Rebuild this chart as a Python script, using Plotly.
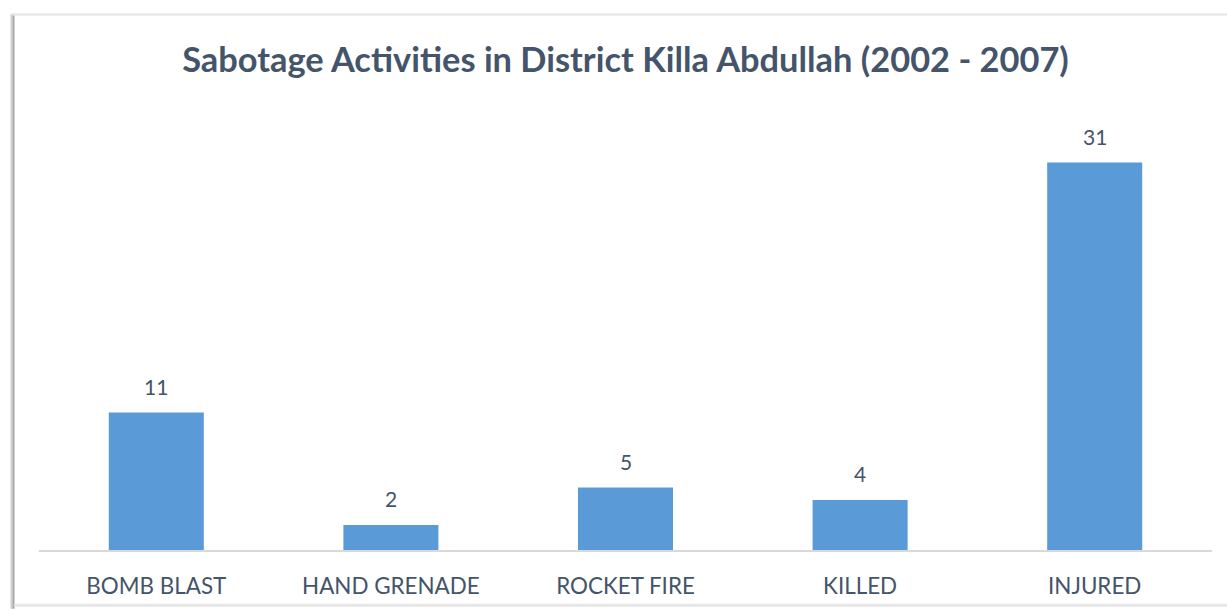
import plotly.graph_objects as go

categories = ["BOMB BLAST", "HAND GRENADE", "ROCKET FIRE", "KILLED", "INJURED"]
values = [11, 2, 5, 4, 31]
title_text = "Sabotage Activities in District Killa Abdullah (2002 - 2007)"

W, H = 1227, 611
ML, MR, MT, MB = 39, 15, 100, 59
PW, PH = W - ML - MR, H - MT - MB

def px2x(px):
    return (px - ML) / PW

def px2y(py):
    return (H - MB - py) / PH

text_color = "#44546A"
font_family = "Lato, 'Open Sans', sans-serif"

fig = go.Figure()
fig.add_trace(go.Bar(
    x=categories, y=values,
    marker=dict(color="#5A9AD6", line=dict(width=0)),
    width=0.405,
    hoverinfo="x+y",
))

for c, v in zip(categories, values):
    fig.add_annotation(x=c, y=v, text=str(v), showarrow=False,
                       yanchor="bottom", yshift=12,
                       font=dict(size=21, color=text_color, family=font_family))

shapes = [
    dict(type="line", xref="paper", yref="paper", x0=px2x(11), x1=px2x(1240),
         y0=px2y(14), y1=px2y(14), line=dict(color="#E3E6EA", width=2)),
    dict(type="line", xref="paper", yref="paper", x0=px2x(11.5), x1=px2x(11.5),
         y0=px2y(14), y1=px2y(611), line=dict(color="#D0D0D0", width=2)),
    dict(type="line", xref="paper", yref="paper", x0=px2x(13.5), x1=px2x(13.5),
         y0=px2y(15), y1=px2y(611), line=dict(color="#A6A6A6", width=2)),
    dict(type="line", xref="paper", yref="paper", x0=px2x(14), x1=px2x(1240),
         y0=px2y(607.5), y1=px2y(607.5), line=dict(color="#E6E6E6", width=3)),
]

fig.update_layout(
    width=W, height=H,
    margin=dict(l=ML, r=MR, t=MT, b=MB),
    paper_bgcolor="white", plot_bgcolor="white",
    title=dict(text="<b>" + title_text + "</b>", x=0.5, xref="paper", xanchor="center",
               y=1 - 60 / H, yanchor="middle",
               font=dict(size=34.4, color=text_color, family=font_family)),
    xaxis=dict(showline=True, linecolor="#D9D9D9", linewidth=2, showgrid=False,
               ticks="", ticklabelstandoff=15,
               tickfont=dict(size=22.4, color=text_color, family=font_family),
               zeroline=False, fixedrange=True),
    yaxis=dict(range=[0, 36], visible=False, showgrid=False, zeroline=False),
    showlegend=False,
    shapes=shapes,
)

fig.write_html("out.html", config={"displayModeBar": False},
               post_script="document.body.style.margin='0';document.body.style.overflow='hidden';")
